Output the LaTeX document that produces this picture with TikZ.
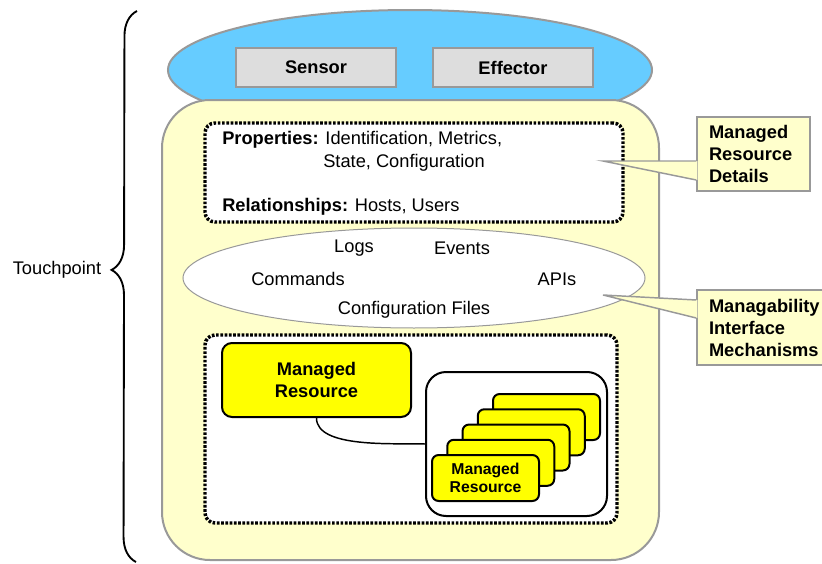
\documentclass[tikz,border=0pt]{standalone}
\usepackage{fontspec}
\setmainfont{Liberation Sans}
\usetikzlibrary{shapes.geometric,calc,decorations.pathreplacing}
\definecolor{skyblue}{HTML}{66CCFF}
\definecolor{paleyellow}{HTML}{FFFFCC}
\definecolor{framegray}{HTML}{999999}
\definecolor{boxgray}{HTML}{DDDDDD}
\definecolor{resyellow}{HTML}{FFFF00}
\tikzset{
    graybox/.style={draw=framegray, line width=1.5pt, fill=boxgray, font=\bfseries},
    dotbox/.style={draw=black, line width=2.6pt, dash pattern=on 2pt off 1.2pt, fill=white, rounded corners=7.5pt},
    resbox/.style={draw=black, line width=1.5pt, fill=resyellow, rounded corners=7.5pt, font=\bfseries, align=center},
    notebox/.style={draw=framegray, line width=1.1pt, fill=paleyellow, font=\bfseries, align=left, inner xsep=9pt},
    plaintext/.style={inner sep=0pt}
}
\begin{document}
\fontsize{13.7}{16.5}\selectfont
\begin{tikzpicture}[x=0.75pt,y=-0.75pt]
    \clip (0,0) rectangle (822,564);
    % touchpoint brace
    \coordinate (bracebot) at (136,562);
    \coordinate (bracetop) at (137,11);
    \draw[line width=1.4pt, decorate, decoration={brace, amplitude=18.75pt, aspect=0.53}] (bracebot) -- (bracetop);
    \node[plaintext] (touchlabel) at (57,270) {Touchpoint};
    % sensor / effector cap
    \node[ellipse, draw=framegray, line width=1.5pt, fill=skyblue, minimum width=363pt, minimum height=90pt] (cap) at (410,70) {};
    \node[draw=framegray, line width=1.5pt, fill=paleyellow, rounded corners=36pt, minimum width=372.75pt, minimum height=345pt] (touch) at (410.5,330) {};
    \node[graybox, minimum width=120pt, minimum height=29.25pt] (sensor) at (316,67.5) {Sensor};
    \node[graybox, minimum width=120pt, minimum height=29.25pt] (effector) at (513,67.5) {Effector};
    % details
    \node[dotbox, minimum width=313.5pt, minimum height=74.25pt] (details) at (414,172.5) {};
    \node[plaintext, anchor=west] (props) at (222,140) {\textbf{Properties:} Identification, Metrics,};
    \node[plaintext, anchor=west] (props2) at (323,163) {State, Configuration};
    \node[plaintext, anchor=west] (rels) at (222,207) {\textbf{Relationships:} Hosts, Users};
    % manageability interface
    \node[ellipse, draw=framegray, line width=0.75pt, fill=white, minimum width=346.5pt, minimum height=75pt] (iface) at (414,278) {};
    \node (logs) at (354,248) {Logs};
    \node (events) at (462,248) {Events};
    \node (commands) at (298,279) {Commands};
    \node (apis) at (557,279) {APIs};
    \node (conffiles) at (414,310) {Configuration Files};
    % resources
    \node[dotbox, minimum width=309pt, minimum height=141pt] (resources) at (411,429) {};
    \node[resbox, minimum width=141.75pt, minimum height=55.5pt] (bigres) at (316.5,380) {Managed\\Resource};
    \node[draw=black, line width=1.5pt, fill=white, rounded corners=15pt, minimum width=135.75pt, minimum height=108pt] (stackbox) at (516.5,444) {};
    \foreach \k in {4,3,2,1}
    {
        \node[resbox, rounded corners=5pt, minimum width=80.25pt, minimum height=34.5pt] (card\k) at ({485.5+15.25*\k},{478-15.25*\k}) {};
    }
    \node[resbox, rounded corners=5pt, minimum width=80.25pt, minimum height=34.5pt, font=\fontsize{11.8}{13.5}\selectfont\bfseries] (card0) at (485.5,478) {Managed\\Resource};
    \draw[line width=1.1pt] (bigres.south) to[out=-90, in=178, looseness=0.7] (stackbox.west);
    % callouts
    \node[notebox, minimum width=84.75pt, minimum height=55.5pt, text width=66.75pt] (detailnote) at (753.5,154) {Managed\\Resource\\Details};
    \coordinate (detailtip) at (603,161);
    \fill[paleyellow] ($(detailnote.west)+(1,7)$) -- (detailtip) -- ($(detailnote.west)+(1,26)$) -- cycle;
    \draw[framegray, line width=1.1pt] ($(detailnote.west)+(0,7)$) -- (detailtip) -- ($(detailnote.west)+(0,26)$);
    \node[notebox, minimum width=103.5pt, minimum height=56.25pt, text width=85.5pt] (ifacenote) at (766,327.5) {Managability\\Interface\\Mechanisms};
    \coordinate (ifacetip) at (603,295);
    \fill[paleyellow] ($(ifacenote.west)+(1,-27.5)$) -- (ifacetip) -- ($(ifacenote.west)+(1,-9.5)$) -- cycle;
    \draw[framegray, line width=1.1pt] ($(ifacenote.west)+(0,-27.5)$) -- (ifacetip) -- ($(ifacenote.west)+(0,-9.5)$);
\end{tikzpicture}
\end{document}
